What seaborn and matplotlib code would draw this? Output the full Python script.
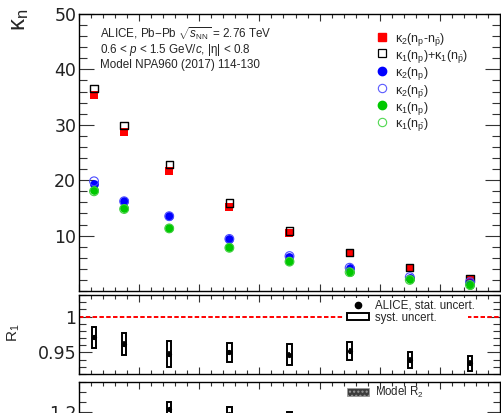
import matplotlib
matplotlib.use("Agg")
import numpy as np
import pandas as pd
import matplotlib.pyplot as plt
from matplotlib.ticker import MultipleLocator, FixedLocator, NullFormatter
from matplotlib.lines import Line2D
from matplotlib.patches import Patch, Rectangle
import seaborn as sns

# ---------------------------------------------------------------- data
# centrality bin centres (%)
centrality = [2.5, 7.5, 15, 25, 35, 45, 55, 65]

k2_diff = [35.4, 28.7, 21.6, 15.1, 10.4, 6.8, 4.1, 2.2]      # kappa2(n_p - n_pbar)
k1_sum = [36.5, 29.9, 22.8, 15.9, 10.8, 7.0, 4.3, 2.3]       # kappa1(n_p) + kappa1(n_pbar)
k2_p = [19.4, 16.3, 13.6, 9.3, 6.2, 4.1, 2.4, 1.5]           # kappa2(n_p)
k2_pbar = [19.8, 16.2, 13.5, 9.4, 6.3, 4.2, 2.5, 1.6]        # kappa2(n_pbar)
k1_p = [18.2, 14.9, 11.4, 7.9, 5.4, 3.5, 2.1, 1.15]          # kappa1(n_p)
k1_pbar = [18.0, 14.8, 11.3, 7.8, 5.3, 3.4, 2.0, 1.1]        # kappa1(n_pbar)

r1_value = [0.971, 0.962, 0.948, 0.950, 0.947, 0.952, 0.940, 0.935]
r1_syst = [0.0145, 0.015, 0.0185, 0.0135, 0.0145, 0.0125, 0.011, 0.0105]

r2_centrality = [15, 25, 35]
r2_value = [1.206, 1.196, 1.186]
r2_syst = [0.014, 0.014, 0.014]

# ---------------------------------------------------------------- style
sns.set_style("ticks")
plt.rcParams["font.family"] = ["Liberation Sans", "DejaVu Sans"]
plt.rcParams["mathtext.fontset"] = "custom"
plt.rcParams["mathtext.rm"] = "Liberation Sans"
plt.rcParams["mathtext.it"] = "Liberation Sans:italic"
plt.rcParams["mathtext.bf"] = "Liberation Sans:bold"
plt.rcParams["axes.linewidth"] = 1.0
plt.rcParams["axes.edgecolor"] = "black"

RED, BLUE, GREEN = "#ff0000", "#0000ff", "#00c800"

W, H = 502, 413
fig = plt.figure(figsize=(W / 100, H / 100), dpi=100)


def px_rect(l, t, r, b):
    return [l / W, 1 - b / H, (r - l) / W, (b - t) / H]


ax_main = fig.add_axes(px_rect(79, 14, 500, 291))
ax_r1 = fig.add_axes(px_rect(79, 295, 500, 374))
ax_r2 = fig.add_axes(px_rect(79, 382, 500, 502))

df = pd.DataFrame({
    "centrality": centrality,
    "k2_diff": k2_diff, "k1_sum": k1_sum,
    "k2_p": k2_p, "k2_pbar": k2_pbar,
    "k1_p": k1_p, "k1_pbar": k1_pbar,
    "r1": r1_value, "r1_syst": r1_syst,
})

# ---------------------------------------------------------------- cumulants
sns.scatterplot(data=df, x="centrality", y="k2_diff", marker="s", s=28,
                color=RED, edgecolor=RED, linewidth=0, ax=ax_main, zorder=3)
sns.scatterplot(data=df, x="centrality", y="k1_sum", marker="s", s=28,
                facecolor="none", edgecolor="black", linewidth=1.0,
                ax=ax_main, zorder=4)
sns.scatterplot(data=df, x="centrality", y="k2_p", marker="o", s=40,
                color=BLUE, edgecolor=BLUE, linewidth=0, ax=ax_main, zorder=5)
sns.scatterplot(data=df, x="centrality", y="k2_pbar", marker="o", s=40,
                facecolor="none", edgecolor="#4a4aff", linewidth=0.8,
                ax=ax_main, zorder=6)
sns.scatterplot(data=df, x="centrality", y="k1_p", marker="o", s=40,
                color=GREEN, edgecolor=GREEN, linewidth=0, ax=ax_main, zorder=7)
sns.scatterplot(data=df, x="centrality", y="k1_pbar", marker="o", s=40,
                facecolor="none", edgecolor="#40d040", linewidth=0.8,
                ax=ax_main, zorder=8)

ax_main.text(100 / W, 1 - 38 / H,
             r"ALICE, Pb$-$Pb $\sqrt{s_{\mathrm{NN}}}$ = 2.76 TeV",
             transform=fig.transFigure, fontsize=8.4, va="baseline")
ax_main.text(100 / W, 1 - 53 / H,
             r"0.6 < $p$ < 1.5 GeV/$c$, |η| < 0.8",
             transform=fig.transFigure, fontsize=8.4, va="baseline")
ax_main.text(100 / W, 1 - 68 / H, "Model NPA960 (2017) 114-130",
             transform=fig.transFigure, fontsize=8.4, va="baseline")

# legend entries for the cumulant panel, one row at a time
handles = [
    Line2D([], [], ls="none", marker="s", ms=5.2, mfc=RED, mec=RED),
    Line2D([], [], ls="none", marker="s", ms=5.2, mfc="none", mec="black", mew=0.9),
    Line2D([], [], ls="none", marker="o", ms=6.0, mfc=BLUE, mec=BLUE),
    Line2D([], [], ls="none", marker="o", ms=6.0, mfc="none", mec="#5a5aff", mew=0.8),
    Line2D([], [], ls="none", marker="o", ms=6.0, mfc=GREEN, mec=GREEN),
    Line2D([], [], ls="none", marker="o", ms=6.0, mfc="none", mec="#50d850", mew=0.8),
]
labels = [
    r"κ$_{2}$(n$_{\mathrm{p}}$-n$_{\bar{\mathrm{p}}}$)",
    r"κ$_{1}$(n$_{\mathrm{p}}$)+κ$_{1}$(n$_{\bar{\mathrm{p}}}$)",
    r"κ$_{2}$(n$_{\mathrm{p}}$)",
    r"κ$_{2}$(n$_{\bar{\mathrm{p}}}$)",
    r"κ$_{1}$(n$_{\mathrm{p}}$)",
    r"κ$_{1}$(n$_{\bar{\mathrm{p}}}$)",
]
row_y = [36.7, 53.3, 70.7, 88.3, 105.0, 121.7]
for h, lab, yy in zip(handles, labels, row_y):
    h.set_transform(fig.transFigure)
    h.set_data([382 / W], [1 - yy / H])
    fig.add_artist(h)
    fig.text(395 / W, 1 - yy / H, lab, fontsize=9, va="center_baseline")

ax_main.set_xlim(0, 70)
ax_main.set_ylim(0, 50)
ax_main.yaxis.set_major_locator(FixedLocator([10, 20, 30, 40, 50]))
ax_main.yaxis.set_minor_locator(MultipleLocator(2))

# ---------------------------------------------------------------- R1 panel
ax_r1.axhline(1.0, color=RED, lw=1.4, ls=(0, (2.3, 1.2)), zorder=1)
ax_r1.add_patch(Rectangle((343 / W, 1 - 326 / H), 125 / W, 28 / H,
                          transform=fig.transFigure, facecolor="white",
                          edgecolor="none", zorder=2))
ax_r1.bar(df["centrality"], 2 * df["r1_syst"], bottom=df["r1"] - df["r1_syst"],
          width=0.75, facecolor="white", edgecolor="black", linewidth=1.4,
          zorder=3)
ax_r1.errorbar(df["centrality"], df["r1"], yerr=0.004, fmt="none",
               ecolor="black", elinewidth=1.2, capsize=0, zorder=4)
sns.scatterplot(data=df, x="centrality", y="r1", marker="o", s=14,
                color="black", edgecolor="black", linewidth=0, ax=ax_r1,
                zorder=5)

leg_r1 = ax_r1.legend(
    [Line2D([], [], ls="none", marker="o", ms=4.5, mfc="black", mec="black"),
     Patch(facecolor="white", edgecolor="black", linewidth=1.4)],
    ["ALICE, stat. uncert.", "syst. uncert."],
    loc="upper left", bbox_to_anchor=(347 / W, 1 - 299.5 / H),
    bbox_transform=fig.transFigure, frameon=False, fontsize=8.3,
    handlelength=1.9, handleheight=0.65, handletextpad=0.5, borderpad=0,
    borderaxespad=0, labelspacing=0.0)
leg_r1.set_zorder(6)

ax_r1.set_xlim(0, 70)
ax_r1.set_ylim(0.92, 1.03)
ax_r1.yaxis.set_major_locator(FixedLocator([0.95, 1.0]))
ax_r1.yaxis.set_major_formatter(plt.FixedFormatter(["0.95", "1"]))
ax_r1.yaxis.set_minor_locator(MultipleLocator(0.01))

# ---------------------------------------------------------------- R2 panel
r2 = pd.DataFrame({"centrality": r2_centrality, "r2": r2_value, "syst": r2_syst})
ax_r2.bar(r2["centrality"], 2 * r2["syst"], bottom=r2["r2"] - r2["syst"],
          width=0.75, facecolor="white", edgecolor="black", linewidth=1.4,
          zorder=3)
sns.scatterplot(data=r2, x="centrality", y="r2", marker="o", s=14,
                color="black", edgecolor="black", linewidth=0, ax=ax_r2,
                zorder=5)
ax_r2.legend([Patch(facecolor="#3c3c3c", edgecolor="#9a9a9a", hatch="....",
                    linewidth=0.5)],
             [r"Model R$_{2}$"], loc="upper left",
             bbox_to_anchor=(347 / W, 1 - 385 / H),
             bbox_transform=fig.transFigure, frameon=False, fontsize=8.3,
             handlelength=1.9, handleheight=0.7, handletextpad=0.5,
             borderpad=0, borderaxespad=0)
ax_r2.set_xlim(0, 70)
ax_r2.set_ylim(1.02, 1.26)
ax_r2.yaxis.set_major_locator(MultipleLocator(0.1))
ax_r2.yaxis.set_minor_locator(MultipleLocator(0.02))
ax_r2.yaxis.set_major_formatter(plt.FuncFormatter(lambda v, p: f"{v:g}"))

# ---------------------------------------------------------------- axes cosmetics
for ax, (ymaj, ymin) in [(ax_main, (10.8, 5.8)), (ax_r1, (9.5, 5.2)),
                         (ax_r2, (9.5, 5.2))]:
    ax.set_xlabel("")
    ax.set_ylabel("")
    ax.xaxis.set_major_locator(MultipleLocator(10))
    ax.xaxis.set_minor_locator(MultipleLocator(2))
    ax.xaxis.set_major_formatter(NullFormatter())
    ax.tick_params(which="both", direction="in", top=True, right=True,
                   width=0.8, color="#333333")
    ax.tick_params(axis="x", which="major", length=5.0)
    ax.tick_params(axis="x", which="minor", length=2.8)
    ax.tick_params(axis="y", which="major", length=ymaj, pad=2)
    ax.tick_params(axis="y", which="minor", length=ymin)
    for lab in ax.get_yticklabels():
        lab.set_fontfamily("DejaVu Sans")
        lab.set_fontsize(12.5)
        lab.set_color("#222222")
    for sp in ax.spines.values():
        sp.set_linewidth(1.0)

fig.text(20 / W, 1 - 9 / H, r"κ$_{\mathrm{n}}$", rotation=90, ha="center",
         va="top", fontsize=17)
fig.text(14 / W, 1 - 333 / H, r"R$_{1}$", rotation=90, ha="center",
         va="center", fontsize=11)

fig.savefig("out.png", dpi=100)
